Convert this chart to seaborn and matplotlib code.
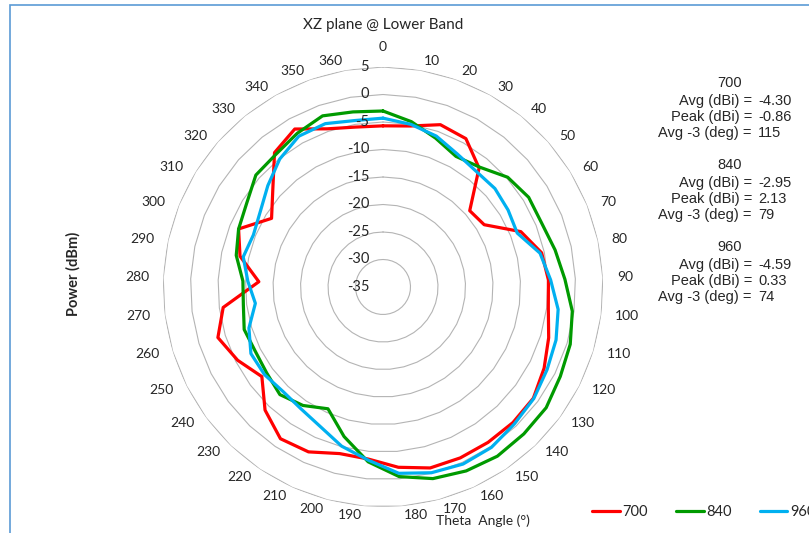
import numpy as np
import pandas as pd
import matplotlib
matplotlib.use('Agg')
import matplotlib.pyplot as plt
from matplotlib.lines import Line2D
from matplotlib.patches import Rectangle
import seaborn as sns

# --- data (dBm per theta category) ---
theta_labels = [str(a) for a in range(0, 361, 10)]
p700 = [-5.7, -5.3, -3.7, -4.1, -7.2, -14.0, -13.4, -8.0, -5.5, -4.9,
        -4.7, -3.5, -2.2, -1.0, -0.86, -0.9, -0.9, -1.0, -2.1, -3.6,
        -3.7, -2.1, -1.7, -4.0, -7.6, -5.4, -3.6, -5.7, -12.4, -8.4,
        -6.7, -11.2, -8.3, -3.6, -2.1, -4.5, -5.5]
p840 = [-3.0, -4.5, -6.3, -7.8, -7.0, -4.8, -3.9, -3.9, -3.0, -1.9,
        -0.3, 0.6, 1.1, 1.9, 2.0, 2.13, 1.7, 1.0, -0.4, -3.1,
        -6.9, -10.7, -9.0, -7.9, -8.7, -9.0, -8.6, -9.4, -9.5, -7.7,
        -6.7, -5.9, -4.2, -4.0, -3.0, -2.0, -2.7]
p960 = [-4.3, -5.0, -5.9, -7.3, -8.0, -7.9, -8.3, -8.7, -5.8, -4.5,
        -2.9, -2.1, -1.6, -0.9, -0.5, 0.2, 0.33, -0.1, -1.0, -3.4,
        -5.1, -7.2, -8.3, -8.7, -8.2, -8.1, -9.5, -11.6, -10.4, -9.0,
        -9.6, -8.8, -7.1, -5.1, -3.6, -3.5, -4.3]
bands = ['700', '840', '960']
band_colors = ['#ff0000', '#009a00', '#00b0f0']
ring_levels = [5, 0, -5, -10, -15, -20, -25, -30]
scale_labels = [5, 0, -5, -10, -15, -20, -25, -30, -35]

stat_names = ['Avg (dBi) =', 'Peak (dBi) =', 'Avg -3 (deg) =']
stats_700 = ['-4.30', '-0.86', '115']
stats_840 = ['-2.95', '2.13', '79']
stats_960 = ['-4.59', '0.33', '74']

sns.set_style('white')
plt.rcParams['font.family'] = ['Lato', 'DejaVu Sans']
txt_col = '#262626'

n = len(theta_labels)
ang = np.arange(n) * 2 * np.pi / n
ang_closed = np.append(ang, 2 * np.pi)

frames = []
for name, vals in zip(bands, [p700, p840, p960]):
    frames.append(pd.DataFrame({'theta': ang_closed,
                                'power': list(vals) + [vals[0]],
                                'band': name}))
df = pd.concat(frames, ignore_index=True)

fig = plt.figure(figsize=(8.09, 5.33), dpi=100)
ax = fig.add_axes([0.2015, 0.0488, 0.5439, 0.8255], projection='polar')
ax.set_theta_zero_location('N')
ax.set_theta_direction(-1)

# polygon rings like the excel radar chart
for lv in ring_levels:
    ax.plot(ang_closed, [lv] * (n + 1), color='#b4b4b4', lw=0.8, zorder=1)

sns.lineplot(data=df, x='theta', y='power', hue='band', hue_order=bands,
             palette=band_colors, sort=False, estimator=None, lw=2.3,
             legend=False, ax=ax, zorder=3)

ax.set_ylim(-35, 5)
ax.set_xticks([])
ax.set_yticks([])
ax.grid(False)
ax.spines['polar'].set_visible(False)
ax.set_xlabel('')
ax.set_ylabel('')

# radial scale labels along the 0 spoke
for lv in scale_labels:
    ax.annotate(str(lv), xy=(0, lv), xytext=(-10, 0), textcoords='offset points',
                ha='right', va='center', fontsize=10.5, color=txt_col)

# theta category labels
px = 0.72
for th, lab in zip(ang, theta_labels):
    s, c = np.sin(th), np.cos(th)
    if abs(s) < 1e-6:
        ha, dx, dy = 'center', 0, 20
    else:
        ha = 'left' if s > 0 else 'right'
        dx = np.sign(s) * (1 + 13 * abs(s))
        dy = 9 * c
    ax.annotate(lab, xy=(th, 5), xytext=(dx * px, dy * px), textcoords='offset points',
                ha=ha, va='center', fontsize=10, color=txt_col, annotation_clip=False)

fig.text(383 / 809, 1 - 25 / 533, 'XZ plane @ Lower Band', ha='center', va='center',
         fontsize=11, color=txt_col)
fig.text(73 / 809, 1 - 274 / 533, 'Power (dBm)', rotation=90, ha='center', va='center',
         fontsize=10.5, fontweight='bold', color=txt_col)
fig.text(483 / 809, 1 - 521 / 533, 'Theta  Angle (°)', ha='center', va='center',
         fontsize=10, color=txt_col)

# stats block on the right
for k, (name, vals) in enumerate(zip(bands, [stats_700, stats_840, stats_960])):
    y0 = 83 + k * 82
    fig.text(730 / 809, 1 - y0 / 533, name, ha='center', va='center',
             fontsize=10.5, family='Liberation Sans', color=txt_col)
    for j, (lab, v) in enumerate(zip(stat_names, vals)):
        y = y0 + 18 + j * 16
        fig.text(752 / 809, 1 - y / 533, lab, ha='right', va='center',
                 fontsize=10.5, family='Liberation Sans', color=txt_col)
        fig.text(758 / 809, 1 - y / 533, v, ha='left', va='center',
                 fontsize=10.5, family='Liberation Sans', color=txt_col)

handles = [Line2D([], [], color=c, lw=2.3) for c in band_colors]
ax.legend(handles, bands, loc='center left', bbox_to_anchor=(592 / 809, 1 - 512 / 533),
          bbox_transform=fig.transFigure, ncol=3, frameon=False, fontsize=10.5,
          handlelength=1.9, handletextpad=0.2, columnspacing=1.9,
          borderpad=0, borderaxespad=0)

fig.add_artist(Rectangle((10 / 809, -0.1), 1.2, 0.1 + 1 - 5 / 533,
                         transform=fig.transFigure, fill=False,
                         edgecolor='#5b9bd5', lw=1.2))

fig.savefig('out.png', dpi=100)
